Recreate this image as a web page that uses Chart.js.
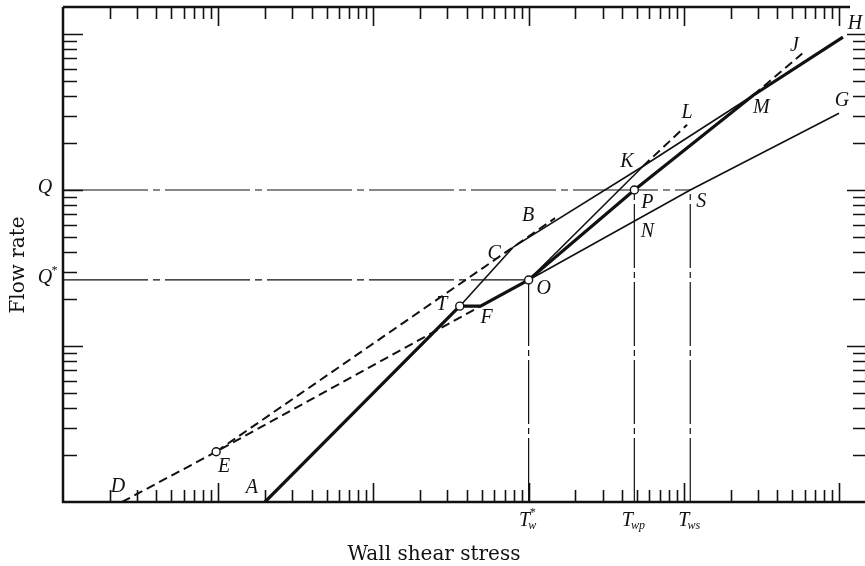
<!DOCTYPE html>
<html>
<head>
<meta charset="utf-8">
<script src="https://cdn.jsdelivr.net/npm/chart.js@4.4.1/dist/chart.umd.min.js"></script>
<style>
  html, body { margin: 0; padding: 0; background: #fff; }
  #wrap { width: 865px; height: 566px; }
</style>
</head>
<body>
<div id="wrap"><canvas id="chart" width="865" height="566"></canvas></div>
<script>
// values: x = wall shear stress, y = flow rate (both log)
// heavy path A-T-F-O-P-M-H
const pathX = [20, 360, 490, 1000, 4800, 28000, 106000];
const pathY = [1, 18, 18, 26.5, 100, 405, 955];
// laminar line carried on past T up to C
const laminarExtX = [360, 795];
const laminarExtY = [18, 43];
// newtonian turbulent line D-E-F (dashed) and O-S-G (thin)
const newtonDashX = [2.4, 9.7, 490];
const newtonDashY = [1, 2.1, 18];
const newtonThinX = [1000, 11000, 100000];
const newtonThinY = [26.5, 100, 310];
// upper dashed line E-C-B
const upperDashX = [9.7, 795, 1480];
const upperDashY = [2.1, 43, 66];
// asymptote C-K-M (thin)
const asymX = [795, 5460, 28000];
const asymY = [43, 142, 405];
// onset line O-K (solid), K-L (dashed)
const onsetX = [1000, 5460];
const onsetY = [26.5, 142];
const onsetDashX = [5460, 10500];
const onsetDashY = [142, 262];
// O-P-M carried on as dashed M-J
const drDashX = [28000, 58000];
const drDashY = [405, 750];
// open circles E, T, O, P
const markX = [9.7, 360, 1000, 4800];
const markY = [2.1, 18, 26.5, 100];
// reference levels
const qValue = 100, qStarValue = 26.5;
const tauStar = 1000, tauWp = 4800, tauWs = 11000;
// axis ranges
const xMin = 1, xMax = 147000, yMin = 1, yMax = 1489;

const pts = (xs, ys) => xs.map((x, i) => ({ x, y: ys[i] }));

function decadeTicks(min, max) {
  const out = [];
  for (let e = Math.floor(Math.log10(min)); e <= Math.ceil(Math.log10(max)); e++) {
    for (let m = 1; m <= 9; m++) {
      const v = m * Math.pow(10, e);
      if (v > min * 1.001 && v < max * 0.999) out.push({ v, major: m === 1 });
    }
  }
  return out;
}

const hDash = [85, 5, 7, 5];
const vDash = [64, 4, 6, 4];
const line = (data, width, dash) => ({
  type: 'scatter', data, showLine: true, borderColor: '#111', borderWidth: width,
  borderDash: dash || [], pointRadius: 0, fill: false, tension: 0
});

// labels: anchor point (data) plus pixel offset
const labels = [
  { t: 'D', x: 2.4, y: 1, dx: -4, dy: -15 },
  { t: 'E', x: 9.7, y: 2.1, dx: 8, dy: 15 },
  { t: 'A', x: 20, y: 1, dx: -13, dy: -14 },
  { t: 'T', x: 360, y: 18, dx: -18, dy: -1 },
  { t: 'F', x: 490, y: 18, dx: 6, dy: 12 },
  { t: 'O', x: 1000, y: 26.5, dx: 15, dy: 9 },
  { t: 'C', x: 795, y: 43, dx: -19, dy: 7 },
  { t: 'B', x: 1480, y: 66, dx: -27, dy: -2 },
  { t: 'K', x: 5460, y: 142, dx: -16, dy: -4 },
  { t: 'L', x: 10500, y: 262, dx: 0, dy: -12 },
  { t: 'P', x: 4800, y: 100, dx: 13, dy: 13 },
  { t: 'N', x: 4800, y: 100, dx: 13, dy: 42 },
  { t: 'S', x: 11000, y: 100, dx: 11, dy: 12 },
  { t: 'M', x: 28000, y: 405, dx: 8, dy: 13 },
  { t: 'J', x: 58000, y: 750, dx: -8, dy: -8 },
  { t: 'H', x: 106000, y: 955, dx: 12, dy: -13 },
  { t: 'G', x: 100000, y: 310, dx: 3, dy: -13 }
];

const ITAL = "italic 20px 'Liberation Serif', 'DejaVu Serif', serif";
const SUB = "italic 12px 'Liberation Serif', 'DejaVu Serif', serif";

function drawTau(ctx, cx, cy, sub, star) {
  ctx.font = ITAL;
  const w = ctx.measureText('T').width;
  ctx.font = SUB;
  const ws = ctx.measureText(sub).width;
  const left = cx - (w + ws) / 2;
  ctx.textAlign = 'left';
  ctx.font = ITAL;
  ctx.fillText('T', left, cy);
  ctx.font = SUB;
  ctx.fillText(sub, left + w - 2, cy + 5);
  if (star) ctx.fillText('*', left + w - 1, cy - 8);
}

const framePlugin = {
  id: 'frameTicks',
  afterDraw(chart) {
    const { ctx, chartArea: a, scales: { x, y } } = chart;
    ctx.save();
    ctx.strokeStyle = '#111';
    ctx.fillStyle = '#111';
    ctx.lineCap = 'butt';
    // frame (the right edge is cut off in the scan)
    ctx.lineWidth = 2.5;
    ctx.beginPath();
    ctx.moveTo(a.left, a.top); ctx.lineTo(a.left, a.bottom); ctx.lineTo(a.right, a.bottom);
    ctx.moveTo(a.left, a.top); ctx.lineTo(a.right - 15, a.top);
    ctx.stroke();
    // inward ticks
    ctx.lineWidth = 1.6;
    ctx.beginPath();
    decadeTicks(x.min, x.max).forEach(t => {
      const px = Math.round(x.getPixelForValue(t.v)) + 0.5;
      const len = t.major ? 19 : 12;
      ctx.moveTo(px, a.bottom); ctx.lineTo(px, a.bottom - len);
      if (px < a.right - 20) { ctx.moveTo(px, a.top); ctx.lineTo(px, a.top + len); }
    });
    decadeTicks(y.min, y.max).forEach(t => {
      const py = Math.round(y.getPixelForValue(t.v)) + 0.5;
      const len = t.major ? 20 : 14;
      ctx.moveTo(a.left, py); ctx.lineTo(a.left + len, py);
      ctx.moveTo(a.right, py); ctx.lineTo(a.right - len + 2, py);
    });
    ctx.stroke();

    // point letters
    ctx.font = ITAL;
    ctx.textAlign = 'center';
    ctx.textBaseline = 'middle';
    labels.forEach(l => {
      ctx.fillText(l.t, x.getPixelForValue(l.x) + l.dx, y.getPixelForValue(l.y) + l.dy);
    });
    // Q and Q*
    ctx.fillText('Q', 45, y.getPixelForValue(qValue) - 2);
    ctx.fillText('Q', 45, y.getPixelForValue(qStarValue) - 2);
    ctx.font = SUB;
    ctx.fillText('*', 54, y.getPixelForValue(qStarValue) - 9);
    // tau labels under the axis
    drawTau(ctx, x.getPixelForValue(tauStar), 521, 'w', true);
    drawTau(ctx, x.getPixelForValue(tauWp), 521, 'wp', false);
    drawTau(ctx, x.getPixelForValue(tauWs), 521, 'ws', false);

    // axis titles
    ctx.font = "20px 'DejaVu Serif', 'Liberation Serif', serif";
    ctx.textAlign = 'center';
    ctx.textBaseline = 'alphabetic';
    ctx.fillText('Wall shear stress', 434, 560);
    ctx.translate(24, 265);
    ctx.rotate(-Math.PI / 2);
    ctx.fillText('Flow rate', 0, 0);
    ctx.restore();
  }
};

new Chart(document.getElementById('chart'), {
  type: 'scatter',
  data: {
    datasets: [
      { type: 'scatter', data: pts(markX, markY), pointRadius: 4, pointBackgroundColor: '#fff',
        pointBorderColor: '#111', pointBorderWidth: 1.4, showLine: false, order: -1 },
      line(pts(pathX, pathY), 3.2),
      line(pts(laminarExtX, laminarExtY), 1.6),
      line(pts(newtonDashX, newtonDashY), 2, [9, 5]),
      line(pts(newtonThinX, newtonThinY), 1.6),
      line(pts(upperDashX, upperDashY), 2, [9, 5]),
      line(pts(asymX, asymY), 1.6),
      line(pts(onsetX, onsetY), 1.6),
      line(pts(onsetDashX, onsetDashY), 2, [9, 5]),
      line(pts(drDashX, drDashY), 2, [9, 5]),
      line(pts([xMin, tauWs], [qValue, qValue]), 1.2, hDash),
      line(pts([xMin, tauStar], [qStarValue, qStarValue]), 1.2, hDash),
      line(pts([tauStar, tauStar], [yMin, qStarValue]), 1.2, vDash),
      line(pts([tauWp, tauWp], [yMin, qValue]), 1.2, vDash),
      line(pts([tauWs, tauWs], [yMin, qValue]), 1.2, vDash)
    ]
  },
  options: {
    responsive: false,
    animation: false,
    layout: { autoPadding: false, padding: { left: 63, top: 7, right: 0, bottom: 64 } },
    plugins: { legend: { display: false }, tooltip: { enabled: false } },
    scales: {
      x: { type: 'logarithmic', min: xMin, max: xMax, display: false },
      y: { type: 'logarithmic', min: yMin, max: yMax, display: false }
    }
  },
  plugins: [framePlugin]
});
</script>
</body>
</html>
